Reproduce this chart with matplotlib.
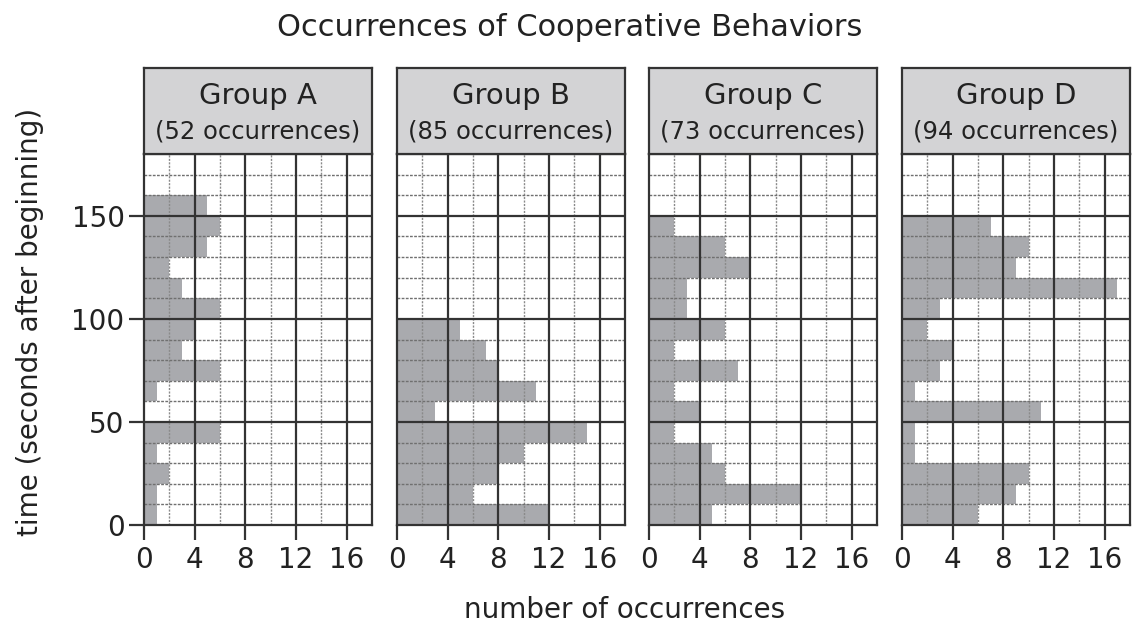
import matplotlib.pyplot as plt
import numpy as np

# time bins (seconds after beginning), 10 s wide
bin_starts = np.arange(0, 160, 10)

groups = ["Group A", "Group B", "Group C", "Group D"]
# occurrences per bin, from bottom (0-10 s) to top (150-160 s)
counts_a = [1, 1, 2, 1, 6, 0, 1, 6, 3, 4, 6, 3, 2, 5, 6, 5]
counts_b = [12, 6, 8, 10, 15, 3, 11, 8, 7, 5, 0, 0, 0, 0, 0, 0]
counts_c = [5, 12, 6, 5, 2, 4, 2, 7, 2, 6, 3, 3, 8, 6, 2, 0]
counts_d = [6, 9, 10, 1, 1, 11, 1, 3, 4, 2, 3, 17, 9, 10, 7, 0]
all_counts = [counts_a, counts_b, counts_c, counts_d]

x_ticks = [0, 4, 8, 12, 16]
y_ticks = [0, 50, 100, 150]

W, H = 1144, 642
fig = plt.figure(figsize=(W / 100, H / 100), dpi=100)
plt.rcParams["font.family"] = "DejaVu Sans"

text_col = "#222222"
line_col = "#333333"
bar_col = "#a9aaae"
head_col = "#d3d3d5"

lefts = [144, 397, 649, 902]
pw = 228
top_px, bot_px, head_px = 154, 525, 68

for i, (name, counts) in enumerate(zip(groups, all_counts)):
    ax = fig.add_axes([lefts[i] / W, (H - bot_px) / H, pw / W, (bot_px - top_px) / H])
    ax.barh(bin_starts, counts, height=10, align="edge", color=bar_col, zorder=1)
    # grid: dashed every 2 / 10, solid every 4 / 50
    for v in [2, 6, 10, 14]:
        ax.axvline(v, color="#8a8a8a", lw=1.0, ls=(0, (1.5, 1)), zorder=2)
    for v in [4, 8, 12, 16]:
        ax.axvline(v, color=line_col, lw=1.6, zorder=3)
    for h in range(10, 180, 10):
        if h % 50:
            ax.axhline(h, color="#707070", lw=1.0, ls=(0, (2, 1)), zorder=2)
    for h in [50, 100, 150]:
        ax.axhline(h, color=line_col, lw=1.6, zorder=3)
    ax.set_xlim(0, 18)
    ax.set_ylim(0, 180)
    ax.set_xticks(x_ticks)
    ax.tick_params(axis="x", direction="out", length=11, width=1.6, color=line_col,
                   labelsize=20, labelcolor=text_col, pad=4)
    if i == 0:
        ax.set_yticks(y_ticks)
        ax.tick_params(axis="y", direction="out", length=11, width=1.6, color=line_col,
                       labelsize=20, labelcolor=text_col, pad=3)
    else:
        ax.set_yticks([])
    for s in ax.spines.values():
        s.set_linewidth(1.6)
        s.set_color(line_col)

    hx = fig.add_axes([lefts[i] / W, (H - top_px) / H, pw / W, (top_px - head_px) / H])
    hx.set_facecolor(head_col)
    hx.set_xticks([])
    hx.set_yticks([])
    for s in hx.spines.values():
        s.set_linewidth(1.6)
        s.set_color(line_col)
    total = sum(counts)
    hx.text(0.5, 0.68, name, ha="center", va="center", fontsize=21, color=text_col,
            transform=hx.transAxes)
    hx.text(0.5, 0.26, f"({total} occurrences)", ha="center", va="center", fontsize=17.5,
            color=text_col, transform=hx.transAxes)

fig.text(570 / W, 1 - 28 / H, "Occurrences of Cooperative Behaviors", ha="center",
         va="center", fontsize=22, color=text_col)
fig.text(625 / W, 1 - 610 / H, "number of occurrences", ha="center", va="center",
         fontsize=20, color=text_col)
fig.text(30 / W, 1 - 322 / H, "time (seconds after beginning)", ha="center", va="center",
         rotation=90, fontsize=20, color=text_col)

fig.savefig("out.png", dpi=100)
